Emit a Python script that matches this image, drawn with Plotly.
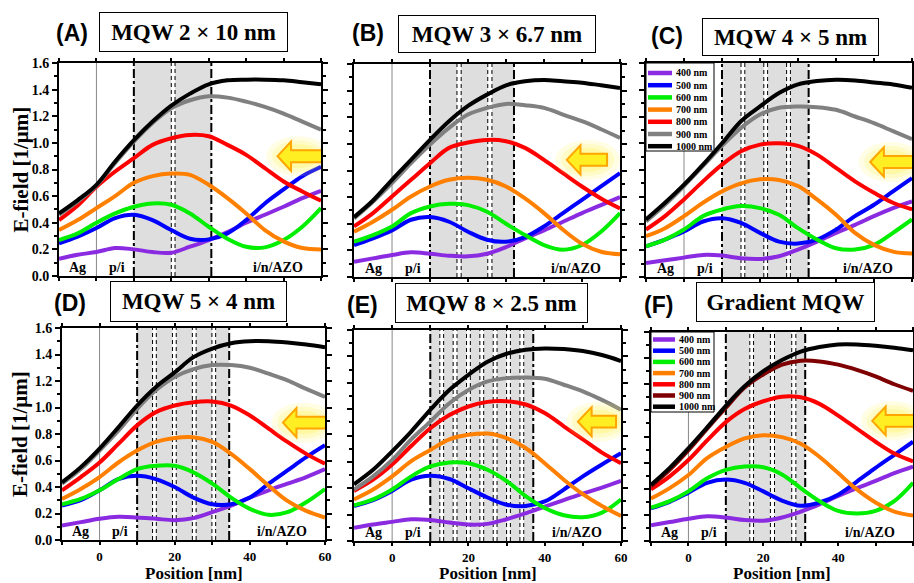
import plotly.graph_objects as go

# ---------------- data ----------------
POSITION_NM = [-10, -5, 0, 5, 10, 15, 20, 25, 30, 35, 40, 45, 50, 55, 60]
WAVELENGTHS = ["400 nm", "500 nm", "600 nm", "700 nm", "800 nm", "900 nm", "1000 nm"]
COLORS = ["#8a2be2", "#0000ff", "#00ee00", "#ff8000", "#ff0000", "#808080", "#000000"]
COLORS_GRADIENT = ["#8a2be2", "#0000ff", "#00ee00", "#ff8000", "#ff0000", "#7f0000", "#000000"]

X_TICKS = [0, 20, 40, 60]
X_MINOR = [-10, 10, 30, 50]
Y_TICKS = [0.0, 0.2, 0.4, 0.6, 0.8, 1.0, 1.2, 1.4, 1.6]
Y_MINOR = [0.1, 0.3, 0.5, 0.7, 0.9, 1.1, 1.3, 1.5]

TITLES = ["MQW 2 × 10 nm", "MQW 3 × 6.7 nm", "MQW 4 × 5 nm",
          "MQW 5 × 4 nm", "MQW 8 × 2.5 nm", "Gradient MQW"]
LETTERS = ["(A)", "(B)", "(C)", "(D)", "(E)", "(F)"]
REGION_LABELS = ["Ag", "p/i", "i/n/AZO"]
REGION_X = [-5, 5.5, 48.5]

# E-field [1/um], rows = 400..1000 nm
EFIELD_A = [
    [0.13, 0.16, 0.18, 0.21, 0.20, 0.18, 0.175, 0.22, 0.27, 0.33, 0.40, 0.46, 0.52, 0.585, 0.64],
    [0.245, 0.295, 0.36, 0.435, 0.46, 0.42, 0.345, 0.28, 0.275, 0.32, 0.42, 0.545, 0.65, 0.75, 0.82],
    [0.27, 0.32, 0.40, 0.47, 0.52, 0.545, 0.535, 0.47, 0.37, 0.28, 0.22, 0.215, 0.27, 0.37, 0.51],
    [0.345, 0.42, 0.51, 0.60, 0.70, 0.75, 0.77, 0.76, 0.685, 0.585, 0.47, 0.345, 0.26, 0.21, 0.20],
    [0.42, 0.53, 0.67, 0.785, 0.885, 0.985, 1.035, 1.06, 1.05, 0.985, 0.91, 0.81, 0.71, 0.635, 0.565],
    [0.46, 0.56, 0.68, 0.85, 1.01, 1.15, 1.26, 1.32, 1.35, 1.34, 1.31, 1.27, 1.22, 1.16, 1.10],
    [0.47, 0.57, 0.685, 0.86, 1.02, 1.16, 1.28, 1.37, 1.44, 1.47, 1.475, 1.475, 1.47, 1.455, 1.44],
]
EFIELD_B = [
    [0.115, 0.14, 0.165, 0.185, 0.175, 0.16, 0.155, 0.175, 0.225, 0.29, 0.35, 0.415, 0.48, 0.54, 0.60],
    [0.24, 0.29, 0.35, 0.43, 0.45, 0.415, 0.34, 0.28, 0.265, 0.30, 0.38, 0.48, 0.58, 0.68, 0.78],
    [0.265, 0.315, 0.38, 0.48, 0.53, 0.55, 0.54, 0.49, 0.40, 0.315, 0.24, 0.205, 0.24, 0.34, 0.48],
    [0.34, 0.415, 0.505, 0.605, 0.68, 0.73, 0.745, 0.73, 0.68, 0.59, 0.48, 0.355, 0.25, 0.19, 0.17],
    [0.38, 0.48, 0.605, 0.73, 0.855, 0.97, 1.01, 1.03, 1.02, 0.97, 0.88, 0.78, 0.68, 0.59, 0.515],
    [0.44, 0.565, 0.705, 0.855, 0.995, 1.12, 1.22, 1.27, 1.30, 1.29, 1.27, 1.22, 1.17, 1.11, 1.045],
    [0.45, 0.575, 0.73, 0.88, 1.03, 1.17, 1.285, 1.37, 1.44, 1.47, 1.48, 1.47, 1.46, 1.44, 1.42],
]
EFIELD_C = [
    [0.105, 0.125, 0.145, 0.165, 0.16, 0.14, 0.135, 0.155, 0.205, 0.265, 0.33, 0.39, 0.455, 0.515, 0.565],
    [0.23, 0.28, 0.34, 0.415, 0.44, 0.405, 0.33, 0.265, 0.25, 0.28, 0.355, 0.455, 0.54, 0.64, 0.74],
    [0.23, 0.28, 0.355, 0.455, 0.505, 0.53, 0.515, 0.465, 0.365, 0.28, 0.215, 0.205, 0.24, 0.33, 0.43],
    [0.305, 0.365, 0.455, 0.555, 0.64, 0.70, 0.73, 0.725, 0.68, 0.58, 0.465, 0.33, 0.24, 0.19, 0.175],
    [0.355, 0.455, 0.58, 0.715, 0.84, 0.94, 0.99, 1.0, 0.98, 0.915, 0.815, 0.715, 0.63, 0.555, 0.505],
    [0.415, 0.54, 0.68, 0.83, 0.98, 1.115, 1.215, 1.265, 1.275, 1.27, 1.25, 1.20, 1.15, 1.09, 1.03],
    [0.43, 0.555, 0.69, 0.84, 1.0, 1.165, 1.275, 1.375, 1.44, 1.465, 1.475, 1.47, 1.455, 1.44, 1.415],
]
EFIELD_D = [
    [0.11, 0.135, 0.16, 0.175, 0.17, 0.16, 0.15, 0.165, 0.21, 0.26, 0.32, 0.375, 0.425, 0.475, 0.535],
    [0.26, 0.30, 0.375, 0.46, 0.485, 0.46, 0.40, 0.32, 0.27, 0.27, 0.32, 0.425, 0.525, 0.625, 0.715],
    [0.27, 0.31, 0.375, 0.46, 0.535, 0.56, 0.56, 0.51, 0.425, 0.32, 0.235, 0.19, 0.21, 0.285, 0.385],
    [0.31, 0.385, 0.475, 0.585, 0.675, 0.74, 0.77, 0.775, 0.74, 0.65, 0.535, 0.41, 0.295, 0.22, 0.17],
    [0.375, 0.475, 0.585, 0.725, 0.865, 0.965, 1.015, 1.04, 1.045, 1.015, 0.94, 0.84, 0.74, 0.65, 0.575],
    [0.425, 0.535, 0.675, 0.825, 0.99, 1.13, 1.23, 1.29, 1.32, 1.32, 1.30, 1.255, 1.205, 1.14, 1.08],
    [0.435, 0.55, 0.69, 0.85, 1.015, 1.155, 1.265, 1.38, 1.445, 1.485, 1.50, 1.50, 1.49, 1.475, 1.455],
]
EFIELD_E = [
    [0.10, 0.125, 0.145, 0.165, 0.16, 0.14, 0.125, 0.13, 0.165, 0.21, 0.26, 0.31, 0.36, 0.405, 0.455],
    [0.265, 0.31, 0.38, 0.465, 0.495, 0.47, 0.40, 0.33, 0.275, 0.265, 0.30, 0.39, 0.49, 0.58, 0.665],
    [0.27, 0.315, 0.39, 0.49, 0.565, 0.595, 0.59, 0.54, 0.455, 0.34, 0.25, 0.195, 0.18, 0.215, 0.315],
    [0.315, 0.39, 0.49, 0.605, 0.69, 0.77, 0.805, 0.815, 0.78, 0.705, 0.59, 0.465, 0.355, 0.265, 0.19],
    [0.38, 0.465, 0.58, 0.72, 0.855, 0.955, 1.02, 1.055, 1.06, 1.035, 0.97, 0.87, 0.77, 0.67, 0.59],
    [0.39, 0.49, 0.615, 0.77, 0.905, 1.045, 1.145, 1.21, 1.235, 1.24, 1.23, 1.185, 1.135, 1.07, 0.995],
    [0.43, 0.54, 0.68, 0.83, 0.995, 1.145, 1.26, 1.36, 1.42, 1.45, 1.46, 1.455, 1.44, 1.41, 1.365],
]
EFIELD_F = [
    [0.12, 0.145, 0.17, 0.19, 0.18, 0.16, 0.155, 0.18, 0.225, 0.28, 0.345, 0.405, 0.46, 0.52, 0.57],
    [0.25, 0.30, 0.37, 0.445, 0.47, 0.445, 0.38, 0.31, 0.27, 0.295, 0.355, 0.455, 0.56, 0.66, 0.76],
    [0.255, 0.305, 0.38, 0.48, 0.545, 0.57, 0.565, 0.51, 0.405, 0.305, 0.23, 0.21, 0.23, 0.305, 0.445],
    [0.325, 0.405, 0.505, 0.635, 0.72, 0.785, 0.81, 0.795, 0.745, 0.645, 0.52, 0.395, 0.295, 0.225, 0.195],
    [0.395, 0.495, 0.62, 0.77, 0.91, 1.01, 1.07, 1.105, 1.10, 1.05, 0.96, 0.86, 0.76, 0.67, 0.61],
    [0.42, 0.545, 0.695, 0.86, 1.02, 1.175, 1.275, 1.35, 1.38, 1.375, 1.35, 1.31, 1.26, 1.20, 1.15],
    [0.43, 0.56, 0.71, 0.87, 1.035, 1.185, 1.30, 1.385, 1.45, 1.485, 1.505, 1.505, 1.495, 1.48, 1.46],
]

# quantum-well layers (start, end) in nm
WELLS_A = [(10, 20), (21, 30.7)]
WELLS_B = [(10, 17.1), (18.2, 25.2), (26.3, 32.1)]
WELLS_C = [(10, 15), (16, 21), (22, 27), (28, 32.8)]
WELLS_D = [(10, 14.1), (15.1, 19.4), (20.4, 24.7), (25.7, 29.9), (30.9, 34.5)]
WELLS_E = [(10, 12.5), (13.5, 16), (17, 19.5), (20.5, 23), (24, 26.5), (27.5, 30), (31, 33.5), (34.5, 37)]
WELLS_F = [(10, 16.4), (17.4, 21.9), (23.0, 27.6), (28.7, 31.2)]

# ---------------- layout helpers ----------------
W, H = 914, 583
SERIF = "Liberation Serif"
SANS = "Liberation Sans"


def px(x):
    return x / W


def py(y):
    return 1 - y / H


PANELS = [
    dict(data=EFIELD_A, wells=WELLS_A, colors=COLORS, box=(59, 321, 63, 276),
         title=(193.5, 32, 189, 40), letter=(72, 33), arrow=(48.4, 0.90, 63), legend=None),
    dict(data=EFIELD_B, wells=WELLS_B, colors=COLORS, box=(354, 620, 64, 277),
         title=(497, 34, 198, 38), letter=(368, 33), arrow=(46.0, 0.88, 56.6), legend=None),
    dict(data=EFIELD_C, wells=WELLS_C, colors=COLORS, box=(646, 912, 63, 277),
         title=(790.5, 36.5, 177, 38), letter=(667, 36), arrow=(49.0, 0.86, 63),
         legend=dict(x0=646, x1=714, y0=63, y1=151, ly=73, dy=12.2, lx0=648, lx1=672, tx=674)),
    dict(data=EFIELD_D, wells=WELLS_D, colors=COLORS, box=(62, 325, 328, 540),
         title=(198.5, 301, 177, 41), letter=(70, 303), arrow=(48.8, 0.886, 63), legend=None),
    dict(data=EFIELD_E, wells=WELLS_E, colors=COLORS, box=(354, 621, 330, 541),
         title=(491.5, 303, 193, 40), letter=(362, 305), arrow=(48.7, 0.905, 58.7), legend=None),
    dict(data=EFIELD_F, wells=WELLS_F, colors=COLORS_GRADIENT, box=(651, 913, 332, 541),
         title=(785.5, 302, 179, 40), letter=(658, 305), arrow=(49.1, 0.92, 63),
         legend=dict(x0=651, x1=714, y0=332, y1=412, ly=339.5, dy=11.2, lx0=653, lx1=675, tx=677)),
]

fig = go.Figure()
shapes = []
annotations = []

for i, p in enumerate(PANELS):
    n = i + 1
    xa = "x" if n == 1 else f"x{n}"
    ya = "y" if n == 1 else f"y{n}"
    x0, x1, y0, y1 = p["box"]
    bottom_row = i >= 3
    left_col = i % 3 == 0

    for wl, col, vals in zip(WAVELENGTHS, p["colors"], p["data"]):
        fig.add_trace(go.Scatter(
            x=POSITION_NM, y=vals, mode="lines", name=wl, showlegend=False,
            line=dict(color=col, width=4, shape="spline", smoothing=1.0),
            xaxis=xa, yaxis=ya, hoverinfo="skip"))

    fig.layout[("xaxis" if n == 1 else f"xaxis{n}")] = dict(
        domain=[px(x0), px(x1)], anchor=ya, range=[-10, 60],
        tickmode="array", tickvals=X_TICKS, ticktext=[f"<b>{v}</b>" for v in X_TICKS],
        ticks="outside", ticklen=3, tickwidth=1.5, tickcolor="black",
        showline=True, linewidth=2, linecolor="black", mirror="ticks",
        showgrid=False, zeroline=False, showticklabels=bottom_row,
        tickfont=dict(family=SERIF, size=13, color="black"), automargin=False,
        minor=dict(ticks="outside", ticklen=3, tickwidth=1.5, tickvals=X_MINOR, tickcolor="black"))
    fig.layout[("yaxis" if n == 1 else f"yaxis{n}")] = dict(
        domain=[py(y1), py(y0)], anchor=xa, range=[0, 1.6],
        tickmode="array", tickvals=Y_TICKS, ticktext=[f"<b>{v:.1f}</b>" for v in Y_TICKS],
        ticks="outside", ticklen=5, tickwidth=1.5, tickcolor="black",
        showline=True, linewidth=2, linecolor="black", mirror="ticks",
        showgrid=False, zeroline=False, showticklabels=left_col,
        tickfont=dict(family=SERIF, size=14, color="black"), automargin=False,
        minor=dict(ticks="outside", ticklen=3, tickwidth=1.5, tickvals=Y_MINOR, tickcolor="black"))

    # wells shading
    for (a, b) in p["wells"]:
        shapes.append(dict(type="rect", xref=xa, yref=ya, x0=a, x1=b, y0=0, y1=1.6,
                           fillcolor="#dedede", line=dict(width=0), layer="below"))
    # inner (barrier) boundaries
    for k, (a, b) in enumerate(p["wells"]):
        edges = []
        if k > 0:
            edges.append(a)
        if k < len(p["wells"]) - 1:
            edges.append(b)
        for e in edges:
            shapes.append(dict(type="line", xref=xa, yref=ya, x0=e, x1=e, y0=0, y1=1.6,
                               line=dict(color="black", width=1, dash="4px,3px"), layer="below"))
    # outer boundaries
    for e in (p["wells"][0][0], p["wells"][-1][1]):
        shapes.append(dict(type="line", xref=xa, yref=ya, x0=e, x1=e, y0=0, y1=1.6,
                           line=dict(color="black", width=2, dash="dashdot"), layer="below"))
    # Ag / p-i interface
    shapes.append(dict(type="line", xref=xa, yref=ya, x0=0, x1=0, y0=0, y1=1.6,
                       line=dict(color="#888888", width=1), layer="below"))

    # light arrow with glow
    tx, ty, tail = p["arrow"]
    cx = tx + 5.5
    for rx, ry, op in ((8.5, 0.15, 0.16), (7, 0.12, 0.22), (5.5, 0.09, 0.3)):
        shapes.append(dict(type="circle", xref=xa, yref=ya, x0=cx - rx, x1=cx + rx,
                           y0=ty - ry, y1=ty + ry, fillcolor=f"rgba(255,245,90,{op})",
                           line=dict(width=0), layer="above"))
    hl, hh, sh = 3.6, 0.11, 0.045
    path = (f"M{tx},{ty} L{tx+hl},{ty+hh} L{tx+hl},{ty+sh} L{tail},{ty+sh} "
            f"L{tail},{ty-sh} L{tx+hl},{ty-sh} L{tx+hl},{ty-hh} Z")
    shapes.append(dict(type="path", xref=xa, yref=ya, path=path, fillcolor="#ffee22",
                       line=dict(color="#ffa500", width=2), layer="above"))

    # region labels
    for lab, lx in zip(REGION_LABELS, REGION_X):
        annotations.append(dict(x=lx, y=0.065, xref=xa, yref=ya, text=f"<b>{lab}</b>", showarrow=False,
                                font=dict(family=SERIF, size=14, color="black"),
                                xanchor="center", yanchor="middle"))

    # title box and letter
    cx_, cy_, bw, bh = p["title"]
    annotations.append(dict(x=px(cx_), y=py(cy_), xref="paper", yref="paper", text=f"<b>{TITLES[i]}</b>",
                            showarrow=False, font=dict(family=SERIF, size=23, color="black"),
                            xanchor="center", yanchor="middle", width=bw - 2, height=bh - 2,
                            bordercolor="black", borderwidth=1, borderpad=0, bgcolor="white"))
    lx_, ly_ = p["letter"]
    annotations.append(dict(x=px(lx_), y=py(ly_), xref="paper", yref="paper", text=f"<b>{LETTERS[i]}</b>",
                            showarrow=False, font=dict(family=SANS, size=23, color="black"),
                            xanchor="center", yanchor="middle"))

    # legend box (drawn)
    lg = p["legend"]
    if lg:
        shapes.append(dict(type="rect", xref="paper", yref="paper", x0=px(lg["x0"]), x1=px(lg["x1"]),
                           y0=py(lg["y1"]), y1=py(lg["y0"]), fillcolor="white",
                           line=dict(color="black", width=1), layer="above"))
        for k, (wl, col) in enumerate(zip(WAVELENGTHS, p["colors"])):
            yy = lg["ly"] + k * lg["dy"]
            shapes.append(dict(type="line", xref="paper", yref="paper", x0=px(lg["lx0"]), x1=px(lg["lx1"]),
                               y0=py(yy), y1=py(yy), line=dict(color=col, width=4.5), layer="above"))
            annotations.append(dict(x=px(lg["tx"]), y=py(yy), xref="paper", yref="paper",
                                    text=f"<b>{wl}</b>", showarrow=False,
                                    font=dict(family=SERIF, size=10, color="black"),
                                    xanchor="left", yanchor="middle"))

# axis titles
for (x0, x1, y0, y1) in [PANELS[3]["box"], PANELS[4]["box"], PANELS[5]["box"]]:
    annotations.append(dict(x=px((x0 + x1) / 2), y=py(573), xref="paper", yref="paper",
                            text="<b>Position [nm]</b>", showarrow=False,
                            font=dict(family=SERIF, size=17, color="black"),
                            xanchor="center", yanchor="middle"))
for (x0, x1, y0, y1) in [PANELS[0]["box"], PANELS[3]["box"]]:
    annotations.append(dict(x=px(20), y=py((y0 + y1) / 2), xref="paper", yref="paper",
                            text="<b>E-field [1/μm]</b>", showarrow=False, textangle=-90,
                            font=dict(family=SERIF, size=21, color="black"),
                            xanchor="center", yanchor="middle"))

fig.update_layout(width=W, height=H, margin=dict(l=0, r=0, t=0, b=0),
                  paper_bgcolor="white", plot_bgcolor="white", showlegend=False,
                  shapes=shapes, annotations=annotations)

fig.write_html("out.html")
